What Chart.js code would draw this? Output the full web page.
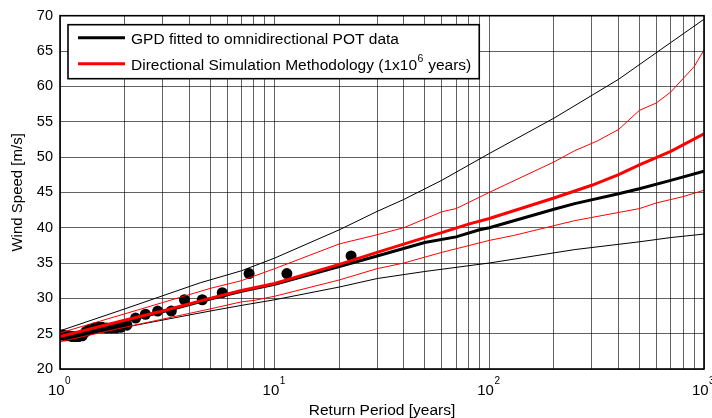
<!DOCTYPE html>
<html>
<head>
<meta charset="utf-8">
<script src="https://cdn.jsdelivr.net/npm/chart.js@4.4.0/dist/chart.umd.min.js"></script>
<style>
html,body{margin:0;padding:0;background:#fff;}
#wrap{width:712px;height:418px;}
</style>
</head>
<body>
<div id="wrap"><canvas id="c" width="712" height="418"></canvas></div>
<script>
// ---- Observed POT data (return period [years], wind speed [m/s]) ----
const obsT = [1.0, 1.03, 1.06, 1.1, 1.14, 1.18, 1.22, 1.27, 1.32, 1.38, 1.44, 1.5, 1.57, 1.65, 1.73, 1.82, 1.92, 2.05, 2.25, 2.5, 2.85, 3.3, 3.8, 4.6, 5.7, 7.6, 11.4, 22.7];
const obsSpeed = [24.8, 24.8, 24.7, 24.7, 24.6, 24.6, 24.6, 24.7, 25.3, 25.6, 25.8, 25.9, 25.9, 25.8, 25.8, 25.8, 25.9, 26.2, 27.2, 27.75, 28.2, 28.2, 29.8, 29.8, 30.8, 33.5, 33.5, 36.0];

// ---- GPD fitted to omnidirectional POT data (black) ----
const gpdT = [1, 2, 3, 5, 7, 10, 20, 30, 50, 70, 90, 100, 200, 250, 400, 500, 700, 1000];
const gpdFit = [24.5, 26.8, 28.1, 29.9, 31.0, 32.0, 34.5, 36.0, 37.9, 38.7, 39.7, 40.0, 42.6, 43.4, 44.8, 45.5, 46.7, 48.0];
const gpdUpperT = [1, 2, 4.5, 7, 10, 20, 30, 40, 60, 100, 200, 400, 700, 1000];
const gpdUpper = [25.4, 28.5, 32.2, 33.9, 35.7, 39.7, 42.3, 44.0, 46.7, 50.5, 55.5, 61.0, 66.2, 69.5];
const gpdLowerT = [1, 2, 5, 7, 10, 20, 30, 50, 100, 250, 500, 700, 1000];
const gpdLower = [24.2, 25.9, 28.2, 29.0, 29.8, 31.6, 32.8, 33.8, 35.0, 36.9, 38.0, 38.6, 39.1];

// ---- Directional Simulation Methodology (red) ----
const dsmT = [1, 2, 3, 5, 7, 10, 20, 30, 50, 60, 80, 100, 200, 300, 400, 500, 700, 1000];
const dsmMedian = [24.6, 26.9, 28.2, 30.0, 31.1, 32.1, 34.8, 36.5, 38.6, 39.3, 40.5, 41.3, 44.2, 46.0, 47.5, 48.9, 50.8, 53.3];
const dsmUpperT = [1, 2, 5, 7, 10, 20, 30, 40, 60, 70, 100, 200, 250, 320, 400, 500, 600, 700, 900, 1000];
const dsmUpper = [25.1, 27.8, 31.4, 32.5, 34.2, 37.7, 39.0, 40.0, 42.25, 42.7, 45.0, 49.3, 50.9, 52.3, 53.9, 56.6, 57.65, 59.2, 62.8, 65.15];
const dsmLowerT = [1, 2, 5, 7, 8, 10, 20, 30, 40, 60, 100, 130, 250, 400, 500, 600, 800, 1000];
const dsmLower = [23.85, 25.9, 28.5, 29.5, 29.7, 30.3, 32.6, 34.2, 35.0, 36.5, 38.2, 38.9, 41.0, 42.15, 42.7, 43.5, 44.4, 45.3];

// ---- Axes / labels ----
const xTickExponents = [0, 1, 2, 3];
const yTicks = [20, 25, 30, 35, 40, 45, 50, 55, 60, 65, 70];
const xTitle = 'Return Period [years]';
const yTitle = 'Wind Speed [m/s]';
const legendLabels = ['GPD fitted to omnidirectional POT data', 'Directional Simulation Methodology (1x10', '6', ' years)'];

const FONT = '"Liberation Sans", Arial, Helvetica, sans-serif';
const GRID = 'rgba(0,0,0,0.62)';

// log grid: 1..9 x 10^k
const xGridValues = [];
for (let k = 0; k < 3; k++) for (let m = 1; m <= 9; m++) xGridValues.push(m * Math.pow(10, k));
xGridValues.push(1000);

const pts = (t, v) => t.map((tt, i) => ({x: tt, y: v[i]}));

const overlay = {
  id: 'overlay',
  afterDraw(chart) {
    const {ctx, chartArea: a, scales: {x}} = chart;
    ctx.save();
    // frame
    ctx.strokeStyle = '#000';
    ctx.lineWidth = 1.6;
    ctx.strokeRect(a.left, a.top, a.right - a.left, a.bottom - a.top);

    // x tick labels 10^k
    ctx.fillStyle = '#000';
    ctx.textBaseline = 'alphabetic';
    ctx.textAlign = 'left';
    xTickExponents.forEach(e => {
      const px = x.getPixelForValue(Math.pow(10, e));
      ctx.font = '15px ' + FONT;
      const w1 = ctx.measureText('10').width;
      ctx.font = '10px ' + FONT;
      const w2 = ctx.measureText(String(e)).width;
      const left = px - (w1 + w2) / 2 - 1;
      ctx.font = '15px ' + FONT;
      ctx.fillText('10', left, a.bottom + 26);
      ctx.font = '10px ' + FONT;
      ctx.fillText(String(e), left + w1 + 0.5, a.bottom + 15);
    });

    // legend
    const bx = a.left + 8, by = a.top + 9, bh = 54;
    const tx = bx + 63;
    const LF = '15.5px ' + FONT, SF = '10.5px ' + FONT;
    ctx.font = LF;
    const wA = ctx.measureText(legendLabels[1]).width;
    const wB = ctx.measureText(legendLabels[3]).width;
    const w0 = ctx.measureText(legendLabels[0]).width;
    ctx.font = SF;
    const wS = ctx.measureText(legendLabels[2]).width;
    const bw = (tx - bx) + Math.max(w0, wA + wS + wB) + 9;
    ctx.fillStyle = '#fff';
    ctx.fillRect(bx, by, bw, bh);
    ctx.strokeStyle = '#000';
    ctx.lineWidth = 1.6;
    ctx.strokeRect(bx, by, bw, bh);

    const rows = [by + 13, by + 39];
    const colors = ['#000000', '#ff0000'];
    rows.forEach((ry, i) => {
      ctx.strokeStyle = colors[i];
      ctx.lineWidth = 3;
      ctx.beginPath();
      ctx.moveTo(bx + 10, ry);
      ctx.lineTo(bx + 57, ry);
      ctx.stroke();
    });
    ctx.fillStyle = '#000';
    ctx.textBaseline = 'middle';
    ctx.font = LF;
    ctx.fillText(legendLabels[0], tx, rows[0] + 2);
    ctx.fillText(legendLabels[1], tx, rows[1] + 2);
    ctx.font = SF;
    ctx.fillText(legendLabels[2], tx + wA + 0.5, rows[1] - 5);
    ctx.font = LF;
    ctx.fillText(legendLabels[3], tx + wA + wS + 1, rows[1] + 2);
    ctx.restore();
  }
};

new Chart(document.getElementById('c'), {
  type: 'line',
  data: {
    datasets: [
      {label: 'DSM median', data: pts(dsmT, dsmMedian), borderColor: '#ff0000', borderWidth: 3, pointRadius: 0, order: 1},
      {label: 'GPD fit', data: pts(gpdT, gpdFit), borderColor: '#000000', borderWidth: 3, pointRadius: 0, order: 2},
      {label: 'DSM upper', data: pts(dsmUpperT, dsmUpper), borderColor: '#ff0000', borderWidth: 1, pointRadius: 0, order: 3},
      {label: 'DSM lower', data: pts(dsmLowerT, dsmLower), borderColor: '#ff0000', borderWidth: 1, pointRadius: 0, order: 3},
      {label: 'GPD upper', data: pts(gpdUpperT, gpdUpper), borderColor: '#000000', borderWidth: 1, pointRadius: 0, order: 4},
      {label: 'GPD lower', data: pts(gpdLowerT, gpdLower), borderColor: '#000000', borderWidth: 1, pointRadius: 0, order: 4},
      {type: 'scatter', label: 'POT data', data: pts(obsT, obsSpeed), showLine: false, pointRadius: 5.5, pointBackgroundColor: '#000', pointBorderWidth: 0, borderColor: '#000', order: 10}
    ]
  },
  options: {
    responsive: false,
    animation: false,
    devicePixelRatio: 1,
    layout: {padding: {top: 14, right: 8, left: 0, bottom: 0}},
    plugins: {legend: {display: false}, tooltip: {enabled: false}},
    elements: {line: {tension: 0}},
    scales: {
      x: {
        type: 'logarithmic', min: 1, max: 1000,
        afterBuildTicks: s => { s.ticks = xGridValues.map(v => ({value: v})); },
        afterFit: s => { s.height = 49; },
        ticks: {display: false},
        grid: {color: GRID, lineWidth: 1, drawTicks: false},
        border: {display: false},
        title: {display: true, text: xTitle, color: '#000', font: {family: FONT, size: 15.5, lineHeight: 1}, padding: 0}
      },
      y: {
        type: 'linear', min: 20, max: 70,
        afterBuildTicks: s => { s.ticks = yTicks.map(v => ({value: v})); },
        afterFit: s => { s.width = 60; },
        ticks: {color: '#000', font: {family: FONT, size: 14.5}, padding: 7},
        grid: {color: GRID, lineWidth: 1, drawTicks: false},
        border: {display: false},
        title: {display: true, text: yTitle, color: '#000', font: {family: FONT, size: 15, lineHeight: 1.2}, padding: {top: 9, bottom: 0}}
      }
    }
  },
  plugins: [overlay]
});
</script>
</body>
</html>
